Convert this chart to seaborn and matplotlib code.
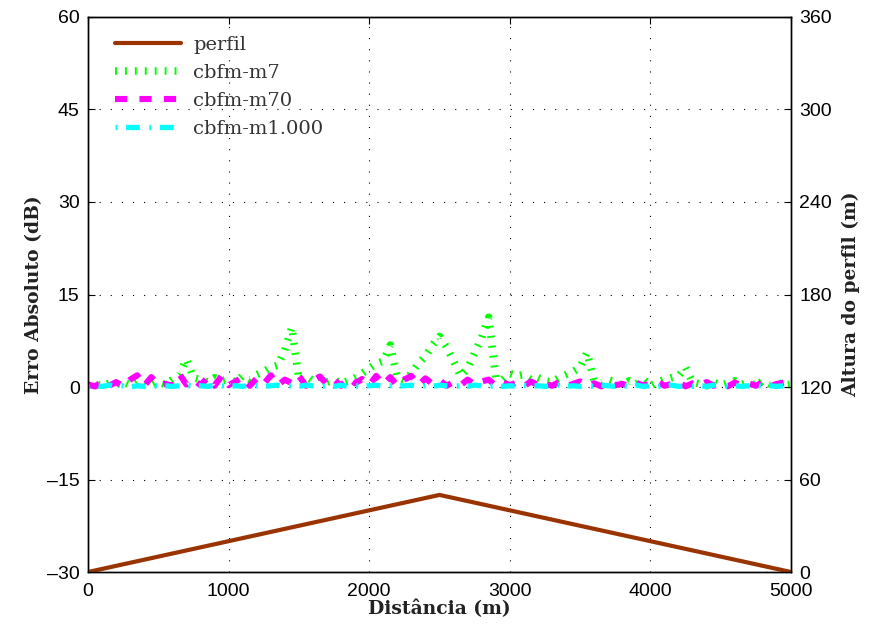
import numpy as np
import pandas as pd
import matplotlib
matplotlib.use("Agg")
import matplotlib.pyplot as plt
import seaborn as sns

# ---------------- data ----------------
distancia = list(range(0, 5001, 50))

erro_m7 = [0.3, 0.5, 0.2, 0.6, 0.4, 0.8, 0.3, 1.0, 0.5, 0.2,
           0.8, 0.4, 1.2, 2.0, 4.5, 1.5, 1.2, 0.8, 1.5, 1.0,
           1.3, 0.8, 1.8, 1.2, 2.0, 2.5, 3.2, 3.5, 6.0, 9.7,
           1.2, 1.8, 1.0, 1.5, 0.8, 1.2, 0.6, 1.0, 1.5, 2.2,
           3.0, 3.8, 4.2, 6.8, 1.5, 1.0, 2.2, 3.8, 5.0, 6.8,
           8.2, 6.5, 4.2, 1.8, 3.0, 5.5, 8.0, 11.3, 1.5, 1.2,
           2.2, 1.8, 2.0, 1.2, 1.5, 1.0, 0.8, 1.5, 2.0, 2.5,
           3.2, 5.6, 1.0, 0.6, 1.2, 0.8, 0.3, 1.0, 0.5, 1.3,
           0.2, 0.8, 1.2, 1.5, 1.8, 3.2, 0.8, 0.5, 0.2, 0.8,
           0.3, 0.6, 1.0, 0.4, 0.8, 0.2, 1.0, 0.5, 0.8, 0.3,
           0.4]

erro_m70 = [0.4, 0.1, 0.9, 0.2, 0.8, 0.1, 1.2, 1.9, 0.2, 1.6,
            0.3, 0.5, 0.2, 2.1, 0.4, 1.2, 0.3, 1.5, 0.2, 1.8,
            0.3, 0.9, 1.6, 0.2, 1.4, 0.5, 1.9, 0.3, 1.2, 0.6,
            1.8, 0.2, 1.0, 1.7, 0.4, 1.2, 0.2, 1.5, 0.6, 1.3,
            0.3, 1.8, 0.4, 1.6, 0.2, 1.2, 1.8, 0.3, 1.4, 0.5,
            1.1, 0.2, 0.8, 0.3, 1.2, 0.4, 0.9, 1.2, 0.2, 0.8,
            0.3, 0.7, 0.1, 0.9, 0.3, 0.6, 0.2, 0.8, 0.1, 0.5,
            0.9, 0.2, 0.6, 0.1, 0.8, 0.3, 0.5, 0.1, 0.7, 0.2,
            0.6, 0.9, 0.2, 0.5, 0.8, 0.1, 0.6, 0.3, 0.8, 0.2,
            0.5, 0.1, 0.7, 0.3, 0.6, 0.2, 0.8, 0.1, 0.5, 0.7,
            0.2]

erro_m1000 = [0.1, 0.2, 0.1, 0.3, 0.1, 0.2, 0.0, 0.2, 0.1, 0.3,
              0.1, 0.2, 0.1, 0.2, 0.3, 0.1, 0.2, 0.1, 0.3, 0.2,
              0.1, 0.2, 0.1, 0.3, 0.2, 0.1, 0.2, 0.3, 0.1, 0.2,
              0.1, 0.3, 0.2, 0.1, 0.2, 0.1, 0.3, 0.1, 0.2, 0.1,
              0.2, 0.3, 0.1, 0.2, 0.1, 0.2, 0.3, 0.1, 0.2, 0.1,
              0.3, 0.2, 0.1, 0.2, 0.1, 0.3, 0.2, 0.1, 0.2, 0.1,
              0.2, 0.1, 0.3, 0.1, 0.2, 0.1, 0.2, 0.3, 0.1, 0.2,
              0.1, 0.2, 0.1, 0.3, 0.2, 0.1, 0.2, 0.1, 0.3, 0.1,
              0.2, 0.1, 0.2, 0.3, 0.1, 0.2, 0.1, 0.2, 0.1, 0.3,
              0.2, 0.1, 0.2, 0.1, 0.2, 0.3, 0.1, 0.2, 0.1, 0.2,
              0.1]

perfil_x = [0, 2500, 5000]
perfil_h = [0, 50, 0]

x_ticks = [0, 1000, 2000, 3000, 4000, 5000]
y_left_ticks = [-30, -15, 0, 15, 30, 45, 60]
y_right_ticks = [0, 60, 120, 180, 240, 300, 360]

# ---------------- style ----------------
sns.set_style("white")
plt.rcParams['font.family'] = ['Liberation Sans', 'DejaVu Sans']
plt.rcParams['xtick.direction'] = 'in'
plt.rcParams['ytick.direction'] = 'in'

fig = plt.figure(figsize=(8.69, 6.27), dpi=100)
ax = fig.add_axes([0.1013, 0.0877, 0.8089, 0.8852])

df = pd.DataFrame({"d": distancia, "m7": erro_m7, "m70": erro_m70,
                   "m1000": erro_m1000})

sns.lineplot(data=df, x="d", y="m7", ax=ax, color="#00ff00", lw=5.5,
             linestyle=(0, (0.25, 1.05)), legend=False)
sns.lineplot(data=df, x="d", y="m70", ax=ax, color="#ff00ff", lw=4.4,
             linestyle=(0, (2.0, 2.0)), legend=False)
sns.lineplot(data=df, x="d", y="m1000", ax=ax, color="#00ffff", lw=3.8,
             linestyle=(0, (0.4, 1.6, 2.6, 1.8)), legend=False)
for l in ax.get_lines():
    l.set_dash_capstyle("butt")

ax.set_xlim(0, 5000)
ax.set_ylim(-30, 60)
ax.set_xticks(x_ticks)
ax.set_yticks(y_left_ticks)
ax.set_yticklabels([("\u2013%d" % abs(v)) if v < 0 else str(v) for v in y_left_ticks])
ax.grid(True, color="black", linestyle=(0, (1, 9)), linewidth=0.8)
ax.tick_params(axis="both", labelsize=14, length=5, width=0.8, colors="black",
               top=True, right=False)
ax.tick_params(axis="x", pad=8)
ax.tick_params(axis="y", pad=6)
for s in ax.spines.values():
    s.set_color("black")
    s.set_linewidth(1.0)

lab_font = {"family": "DejaVu Serif", "weight": "bold", "size": 13.5, "color": "#222222"}
ax.set_xlabel("Distância (m)", fontdict=lab_font, labelpad=0)
ax.set_ylabel("Erro Absoluto (dB)", fontdict=lab_font, labelpad=3)

ax2 = ax.twinx()
sns.lineplot(x=perfil_x, y=perfil_h, ax=ax2, color="#993300", lw=3.0,
             legend=False)
ax2.set_ylim(0, 360)
ax2.set_yticks(y_right_ticks)
ax2.tick_params(labelsize=14, length=5, width=0.8, colors="black", pad=6)
ax2.set_ylabel("Altura do perfil (m)", fontdict=lab_font, labelpad=7)
for s in ax2.spines.values():
    s.set_color("black")
    s.set_linewidth(1.0)
ax2.grid(False)

handles = ax2.get_lines()[:1] + ax.get_lines()[:3]
labels = ["perfil", "cbfm-m7", "cbfm-m70", "cbfm-m1.000"]
leg = ax2.legend(handles, labels, loc="upper left", bbox_to_anchor=(0.038, 0.966),
                 frameon=False, borderpad=0, borderaxespad=0,
                 prop={"family": "DejaVu Serif", "size": 14},
                 handlelength=3.4, handletextpad=0.65, labelspacing=0.52)
for t in leg.get_texts():
    t.set_color("#333333")

fig.savefig("out.png", dpi=100)
